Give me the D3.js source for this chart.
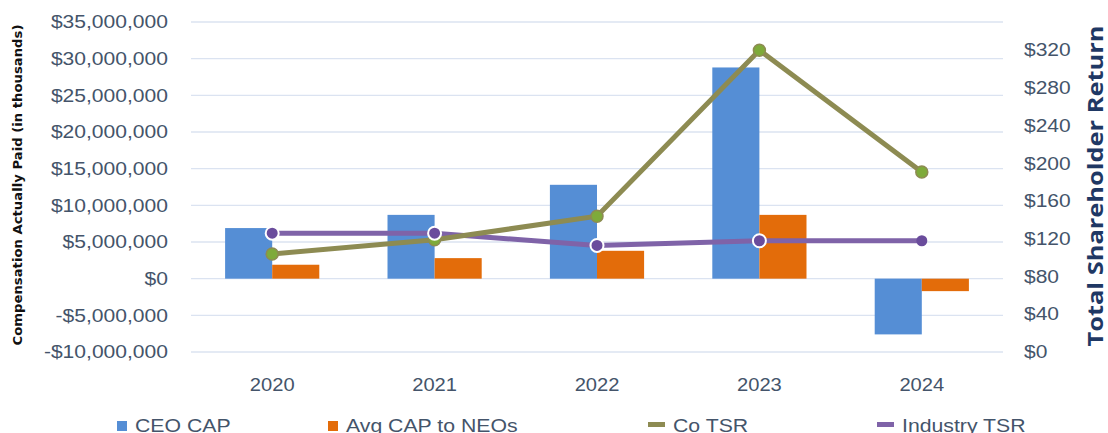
<!DOCTYPE html>
<html>
<head>
<meta charset="utf-8">
<script src="https://cdn.jsdelivr.net/npm/d3@7"></script>
<style>
  body { margin: 0; background: #fff; }
  svg { display: block; }
</style>
</head>
<body>
<svg width="1108" height="433"></svg>
<script>
// data
const years = ["2020", "2021", "2022", "2023", "2024"];
const ceoCap = [6900000, 8700000, 12800000, 28800000, -7600000];
const avgCap = [1900000, 2800000, 3800000, 8700000, -1700000];
const coTsr = [104, 119, 144, 320, 191];
const industryTsr = [126, 126, 113, 118, 118];
const leftTicks = [-10000000, -5000000, 0, 5000000, 10000000, 15000000, 20000000, 25000000, 30000000, 35000000];
const rightTicks = [0, 40, 80, 120, 160, 200, 240, 280, 320];

const svg = d3.select("svg");
const plot = { left: 191, right: 1003, top: 22, bottom: 352 };

const x = d3.scaleBand().domain(years).range([plot.left, plot.right]).paddingInner(0.42).paddingOuter(0.21);
const yL = d3.scaleLinear().domain([-10000000, 35000000]).range([plot.bottom, plot.top]);
const yR = d3.scaleLinear().domain([0, 350]).range([plot.bottom, plot.top]);

const tickColor = "#44546a";
const money = d3.format("$,.0f");
const fmt = d => d < 0 ? "-" + money(-d) : money(d);

// the reference text runs a bit wider than Liberation Sans, so stretch it
function stretch(sel, k) {
  sel.each(function() {
    const len = this.getComputedTextLength();
    d3.select(this).attr("textLength", len * k).attr("lengthAdjust", "spacingAndGlyphs");
  });
}

// gridlines
svg.append("g")
  .selectAll("line")
  .data(leftTicks)
  .join("line")
  .attr("x1", plot.left).attr("x2", plot.right)
  .attr("y1", d => yL(d)).attr("y2", d => yL(d))
  .attr("stroke", "#dbe3f1").attr("stroke-width", 1.3);

// left axis
const leftAxis = svg.append("g")
  .attr("transform", `translate(${plot.left},0)`)
  .call(d3.axisLeft(yL).tickValues(leftTicks).tickFormat(fmt).tickSize(0).tickPadding(23));
leftAxis.select(".domain").remove();
leftAxis.selectAll("text")
  .attr("fill", tickColor)
  .style("font-family", "'Liberation Sans', Arial, sans-serif")
  .style("font-size", "18px")
  .call(stretch, 1.17);

// right axis
const rightAxis = svg.append("g")
  .attr("transform", `translate(${plot.right},0)`)
  .call(d3.axisRight(yR).tickValues(rightTicks).tickFormat(d => "$" + d).tickSize(0).tickPadding(21));
rightAxis.select(".domain").remove();
rightAxis.selectAll("text")
  .attr("fill", tickColor)
  .style("font-family", "'Liberation Sans', Arial, sans-serif")
  .style("font-size", "17.5px")
  .call(stretch, 1.2);

// x axis labels
const xAxis = svg.append("g")
  .attr("transform", `translate(0,${plot.bottom})`)
  .call(d3.axisBottom(x).tickSize(0).tickPadding(27));
xAxis.select(".domain").remove();
xAxis.selectAll("text")
  .attr("fill", tickColor)
  .style("font-family", "'Liberation Sans', Arial, sans-serif")
  .style("font-size", "17.5px")
  .call(stretch, 1.15);

// bars
const bw = x.bandwidth() / 2;
svg.append("g")
  .selectAll("rect")
  .data(years)
  .join("rect")
  .attr("x", d => x(d))
  .attr("width", bw)
  .attr("y", (d, i) => yL(Math.max(0, ceoCap[i])))
  .attr("height", (d, i) => Math.abs(yL(ceoCap[i]) - yL(0)))
  .attr("fill", "#558ed5");

svg.append("g")
  .selectAll("rect")
  .data(years)
  .join("rect")
  .attr("x", d => x(d) + bw)
  .attr("width", bw)
  .attr("y", (d, i) => yL(Math.max(0, avgCap[i])))
  .attr("height", (d, i) => Math.abs(yL(avgCap[i]) - yL(0)))
  .attr("fill", "#e36c0a");

// lines
const cx = d => x(d) + bw;
const lineFor = vals => d3.line().x(d => cx(d)).y((d, i) => yR(vals[i]));

svg.append("path")
  .datum(years)
  .attr("d", lineFor(industryTsr))
  .attr("fill", "none")
  .attr("stroke", "#7f63a8")
  .attr("stroke-width", 5);

svg.append("path")
  .datum(years)
  .attr("d", lineFor(coTsr))
  .attr("fill", "none")
  .attr("stroke", "#8d8b52")
  .attr("stroke-width", 5);

svg.append("g")
  .selectAll("circle")
  .data(years)
  .join("circle")
  .attr("cx", d => cx(d))
  .attr("cy", (d, i) => yR(coTsr[i]))
  .attr("r", 6)
  .attr("fill", "#7eaa3a")
  .attr("stroke", "#8d8b52")
  .attr("stroke-width", 1.5);

svg.append("g")
  .selectAll("circle")
  .data(years)
  .join("circle")
  .attr("cx", d => cx(d))
  .attr("cy", (d, i) => yR(industryTsr[i]))
  .attr("r", (d, i) => i === years.length - 1 ? 5.5 : 6.5)
  .attr("fill", "#6a4c9c")
  .attr("stroke", (d, i) => i === years.length - 1 ? "none" : "#fff")
  .attr("stroke-width", 2);

// axis titles
svg.append("text")
  .attr("transform", "translate(22,185) rotate(-90)")
  .attr("text-anchor", "middle")
  .style("font-family", "'DejaVu Sans', Verdana, sans-serif")
  .style("font-size", "12px")
  .style("font-weight", "bold")
  .attr("fill", "#111")
  .text("Compensation Actually Paid (in thousands)")
  .call(stretch, 1.1);

svg.append("text")
  .attr("transform", "translate(1103,186) rotate(-90)")
  .attr("text-anchor", "middle")
  .style("font-family", "'Open Sans', sans-serif")
  .style("font-size", "20.5px")
  .style("font-weight", "bold")
  .attr("fill", "#1f3864")
  .text("Total Shareholder Return")
  .call(stretch, 1.24);

// legend
const legendItems = [
  { name: "CEO CAP", color: "#558ed5", type: "rect", x: 117 },
  { name: "Avg CAP to NEOs", color: "#e36c0a", type: "rect", x: 328 },
  { name: "Co TSR", color: "#8d8b52", type: "line", x: 648 },
  { name: "Industry TSR", color: "#7f63a8", type: "line", x: 877 }
];
const legend = svg.append("g");
legendItems.forEach(item => {
  const g = legend.append("g").attr("transform", `translate(${item.x},0)`);
  if (item.type === "rect") {
    g.append("rect").attr("x", 0).attr("y", 421).attr("width", 10).attr("height", 10).attr("fill", item.color);
  } else {
    g.append("rect").attr("x", 0).attr("y", 422).attr("width", 17).attr("height", 5).attr("fill", item.color);
  }
  g.append("text")
    .attr("x", item.type === "rect" ? 18 : 25)
    .attr("y", 432)
    .attr("fill", tickColor)
    .style("font-family", "'Liberation Sans', Arial, sans-serif")
    .style("font-size", "18px")
    .text(item.name)
    .call(stretch, 1.18);
});
</script>
</body>
</html>
